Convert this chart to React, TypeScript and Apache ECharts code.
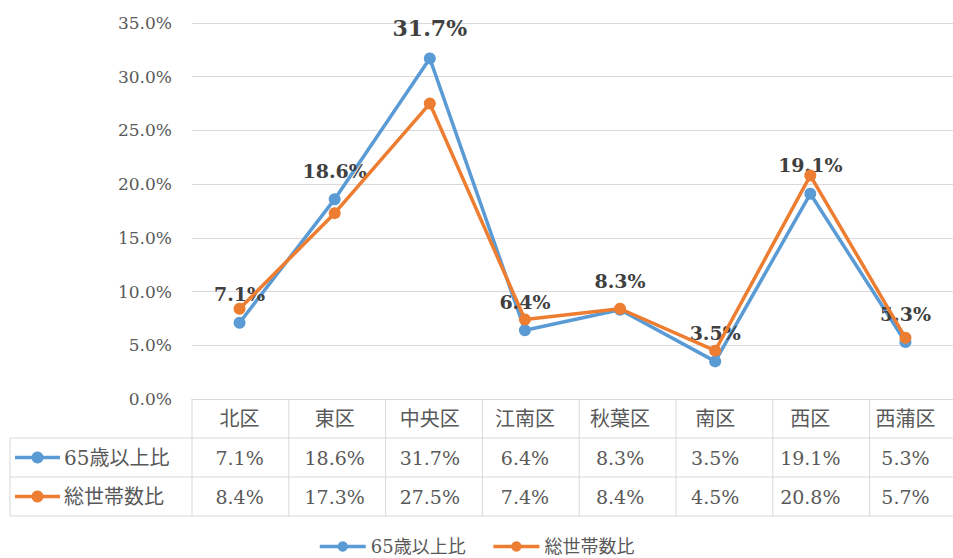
import React, { useEffect, useRef } from "react";
import * as echarts from "echarts";

const categories = ["北区", "東区", "中央区", "江南区", "秋葉区", "南区", "西区", "西蒲区"];
const seniorRatio = [7.1, 18.6, 31.7, 6.4, 8.3, 3.5, 19.1, 5.3];
const householdRatio = [8.4, 17.3, 27.5, 7.4, 8.4, 4.5, 20.8, 5.7];
const seriesNames = ["65歳以上比", "総世帯数比"];
const yMin = 0;
const yMax = 35;
const yInterval = 5;

const BLUE = "#5B9BD5";
const ORANGE = "#ED7D31";
const GRID_COLOR = "#d9d9d9";
const TEXT = "#595959";
const FONT = "'DejaVu Serif', 'Noto Sans CJK JP', serif";

const W = 953;
const H = 558;
const GRID_LEFT = 192;
const COL_W = 96.8;
const GRID_TOP = 23;
const GRID_H = 376;
const ROW_H = 39;
const TABLE_LEFT = 10;

const fmt = (v: number) => v.toFixed(1) + "%";

export default function App() {
  const ref = useRef<HTMLDivElement>(null);
  useEffect(() => {
    document.body.style.margin = "0";
    const chart = echarts.init(ref.current!, undefined, { renderer: "svg" });
    const axisBottom = GRID_TOP + GRID_H;
    const tableBottom = axisBottom + 3 * ROW_H;

    const graphics: any[] = [];
    for (let r = 1; r <= 3; r++) {
      const y = axisBottom + r * ROW_H;
      graphics.push({
        type: "line",
        shape: { x1: TABLE_LEFT, y1: y, x2: W, y2: y },
        style: { stroke: GRID_COLOR, lineWidth: 1 },
        silent: true,
      });
    }
    graphics.push({
      type: "line",
      shape: { x1: TABLE_LEFT, y1: axisBottom + ROW_H, x2: TABLE_LEFT, y2: tableBottom },
      style: { stroke: GRID_COLOR, lineWidth: 1 },
      silent: true,
    });
    for (let k = 0; k <= categories.length; k++) {
      const x = GRID_LEFT + k * COL_W;
      graphics.push({
        type: "line",
        shape: { x1: x, y1: axisBottom, x2: x, y2: tableBottom },
        style: { stroke: GRID_COLOR, lineWidth: 1 },
        silent: true,
      });
    }
    [BLUE, ORANGE].forEach((c, i) => {
      const cy = axisBottom + (i + 1.5) * ROW_H;
      graphics.push({
        type: "line",
        shape: { x1: 15, y1: cy, x2: 60, y2: cy },
        style: { stroke: c, lineWidth: 3.5 },
        silent: true,
      });
      graphics.push({
        type: "circle",
        shape: { cx: 37.5, cy, r: 6 },
        style: { fill: c },
        silent: true,
      });
      graphics.push({
        type: "text",
        x: 64,
        y: cy,
        style: {
          text: seriesNames[i],
          fill: TEXT,
          font: `20px ${FONT}`,
          verticalAlign: "middle",
          align: "left",
        },
        silent: true,
      });
    });

    const rowAxis = (vals: number[], offset: number) => ({
      type: "category",
      data: categories,
      position: "bottom",
      offset,
      axisLine: { show: false },
      axisTick: { show: false },
      axisLabel: {
        interval: 0,
        margin: 10,
        color: TEXT,
        fontSize: 19,
        fontFamily: FONT,
        formatter: (_: string, idx: number) => fmt(vals[idx]),
      },
    });

    chart.setOption({
      animation: false,
      grid: { left: GRID_LEFT, top: GRID_TOP, width: COL_W * categories.length, height: GRID_H },
      legend: {
        data: seriesNames,
        top: 537,
        left: 318,
        padding: 0,
        itemWidth: 46,
        itemHeight: 13,
        itemGap: 26,
        lineStyle: { width: 3.5 },
        textStyle: { color: TEXT, fontSize: 18, lineHeight: 19, fontFamily: FONT },
      },
      xAxis: [
        {
          type: "category",
          data: categories,
          boundaryGap: true,
          axisLine: { show: true, lineStyle: { color: GRID_COLOR, width: 1 } },
          axisTick: { show: false },
          axisLabel: { interval: 0, margin: 10, color: TEXT, fontSize: 20, fontFamily: FONT },
        },
        rowAxis(seniorRatio, ROW_H),
        rowAxis(householdRatio, ROW_H * 2),
      ],
      yAxis: {
        type: "value",
        min: yMin,
        max: yMax,
        interval: yInterval,
        axisLine: { show: false },
        axisTick: { show: false },
        splitLine: { lineStyle: { color: GRID_COLOR, width: 1 } },
        axisLabel: {
          margin: 20,
          color: TEXT,
          fontSize: 17,
          fontFamily: FONT,
          formatter: (v: number) => fmt(v),
        },
      },
      series: [
        {
          name: seriesNames[0],
          type: "line",
          data: seniorRatio.map((v) =>
            v === Math.max(...seniorRatio) ? { value: v, label: { fontSize: 22 } } : v
          ),
          symbol: "circle",
          symbolSize: 12,
          color: BLUE,
          lineStyle: { width: 3.5, color: BLUE },
          itemStyle: { color: BLUE },
          label: {
            show: true,
            position: "top",
            distance: 13,
            formatter: (p: any) => fmt(p.value),
            color: "#404040",
            fontWeight: "bold",
            fontSize: 19,
            fontFamily: FONT,
          },
          z: 2,
        },
        {
          name: seriesNames[1],
          type: "line",
          data: householdRatio,
          symbol: "circle",
          symbolSize: 12,
          color: ORANGE,
          lineStyle: { width: 3.5, color: ORANGE },
          itemStyle: { color: ORANGE },
          z: 3,
        },
      ],
      graphic: graphics,
    });
    return () => chart.dispose();
  }, []);
  return (
    <div
      ref={ref}
      style={{ position: "fixed", left: 0, top: 0, width: W, height: H, background: "#fff" }}
    />
  );
}
